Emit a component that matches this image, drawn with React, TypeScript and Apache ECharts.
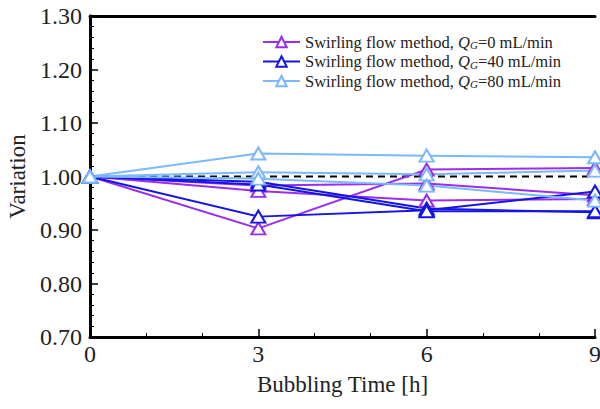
import React, { useEffect, useRef } from "react";
import * as echarts from "echarts";

const times = [0, 3, 6, 9];
const groupNames = ["Q0", "Q40", "Q80"];
const groupLabels = ["0", "40", "80"];
const groupColors = ["#9a2ef0", "#1414e6", "#7ab8ff"];

// purple: Q_G = 0 mL/min
const q0Runs = [
  [1.0, 0.903, 1.013, 1.016],
  [1.0, 0.983, 0.987, 0.965],
  [1.0, 0.973, 0.955, 0.958],
];
// blue: Q_G = 40 mL/min
const q40Runs = [
  [1.0, 0.925, 0.937, 0.972],
  [1.0, 0.99, 0.94, 0.933],
  [1.0, 0.985, 0.935, 0.935],
];
// light blue: Q_G = 80 mL/min
const q80Runs = [
  [1.0, 1.043, 1.039, 1.036],
  [1.0, 1.008, 1.004, 1.011],
  [1.0, 0.996, 0.983, 0.955],
];
const refLine = [1.0, 1.0];
const refX = [0, 9];

const FONT = "Liberation Serif, Times New Roman, serif";
const TXT = "#222";

export default function App() {
  const ref = useRef<HTMLDivElement>(null);
  useEffect(() => {
    if (!ref.current) return;
    const chart = echarts.init(ref.current, undefined, { renderer: "svg" });
    const groups = [q0Runs, q40Runs, q80Runs];
    const series: any[] = [
      {
        type: "line",
        name: "ref",
        data: refX.map((x, i) => [x, refLine[i]]),
        symbol: "none",
        lineStyle: { color: "#000", width: 2, type: [7, 5] },
        z: 1,
        silent: true,
      },
    ];
    groups.forEach((runs, gi) => {
      runs.forEach((run) => {
        series.push({
          type: "line",
          name: groupNames[gi],
          data: times.map((t, i) => [t, run[i]]),
          symbol: "triangle",
          symbolSize: [14, 12],
          lineStyle: { color: groupColors[gi], width: 2 },
          itemStyle: { color: "#fff", borderColor: groupColors[gi], borderWidth: 2 },
          z: 3,
        });
      });
    });
    const axisLine = { show: true, lineStyle: { color: "#000", width: 3 } };
    chart.setOption({
      animation: false,
      textStyle: { fontFamily: FONT },
      grid: { left: 90, right: 5, top: 16, bottom: 72, show: false, outerBoundsMode: "none", containLabel: false },
      legend: {
        data: groupNames,
        orient: "vertical",
        left: 257,
        top: 28,
        itemWidth: 37,
        itemHeight: 13,
        itemGap: 1.5,
        selectedMode: false,
        formatter: (name: string) => {
          const idx = groupNames.indexOf(name);
          return `Swirling flow method, {i|Q}{s|G}=${groupLabels[idx]} mL/min`;
        },
        textStyle: {
          fontFamily: FONT,
          fontSize: 16.5,
          lineHeight: 18,
          color: TXT,
          rich: {
            i: { fontFamily: FONT, fontSize: 16.5, lineHeight: 18, fontStyle: "italic", color: TXT },
            s: { fontFamily: FONT, fontSize: 11, lineHeight: 12, fontStyle: "italic", color: TXT, padding: [6, 0, 0, 0] },
          },
        },
      },
      xAxis: [
        {
          type: "value",
          min: 0,
          max: 9,
          interval: 3,
          name: "Bubbling Time [h]",
          nameLocation: "middle",
          nameGap: 36,
          nameTextStyle: { fontFamily: FONT, fontSize: 23, color: TXT },
          axisLine,
          axisTick: { show: true, inside: true, length: 8, lineStyle: { color: "#000", width: 1.5 } },
          minorTick: { show: true, splitNumber: 3, length: 4, lineStyle: { color: "#000", width: 1 } },
          axisLabel: { fontFamily: FONT, fontSize: 24, color: TXT, margin: 5 },
          splitLine: { show: false },
        },
        {
          type: "value",
          min: 0,
          max: 9,
          position: "top",
          axisLine,
          axisTick: { show: false },
          axisLabel: { show: false },
          splitLine: { show: false },
        },
      ],
      yAxis: [
        {
          type: "value",
          min: 0.7,
          max: 1.3,
          interval: 0.1,
          name: "Variation",
          nameLocation: "middle",
          nameGap: 59,
          nameTextStyle: { fontFamily: FONT, fontSize: 23, color: TXT },
          axisLine,
          axisTick: { show: true, inside: true, length: 8, lineStyle: { color: "#000", width: 1.5 } },
          minorTick: { show: true, splitNumber: 5, length: 4, lineStyle: { color: "#000", width: 1 } },
          axisLabel: {
            fontFamily: FONT,
            fontSize: 24,
            color: TXT,
            margin: 8,
            formatter: (v: number) => v.toFixed(2),
          },
          splitLine: { show: false },
        },
        {
          type: "value",
          min: 0.7,
          max: 1.3,
          interval: 0.1,
          position: "right",
          axisLine,
          axisTick: { show: false },
          axisLabel: { show: false },
          splitLine: { show: false },
        },
      ],
      series,
    });
    return () => chart.dispose();
  }, []);
  return <div ref={ref} style={{ width: 600, height: 409, position: "absolute", left: 0, top: 0 }} />;
}
